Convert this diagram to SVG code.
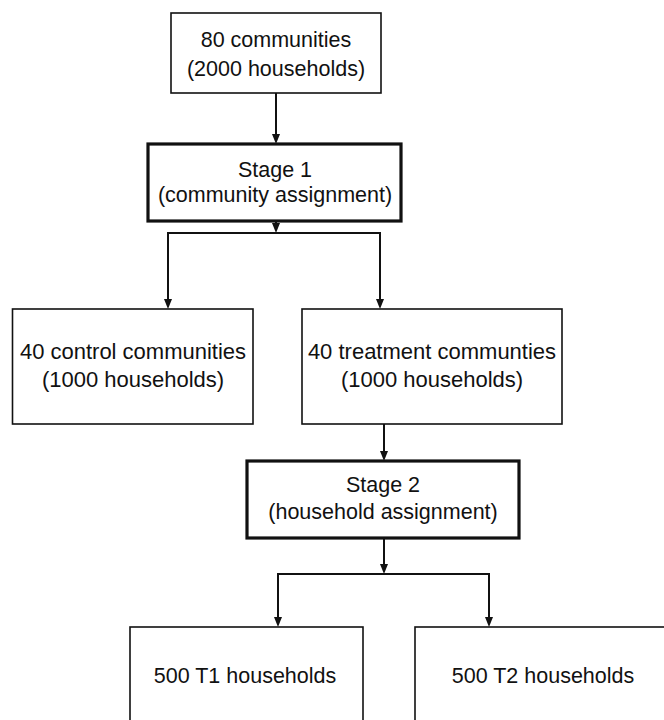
<svg xmlns="http://www.w3.org/2000/svg" width="664" height="720" viewBox="0 0 664 720">
<style>
.box{fill:#fff;stroke:#111;stroke-width:1.6}
.stage{fill:#fff;stroke:#111;stroke-width:3.2}
.t{font-family:"Liberation Sans",Arial,sans-serif;font-size:21.5px;fill:#111;text-anchor:middle}
.m{font-size:22px}
.c{fill:none;stroke:#111;stroke-width:2}
.h{fill:#111}
</style>
<rect width="664" height="720" fill="#fff"/>
<g id="connectors">
<path class="c" d="M276,93 V136"/>
<path class="h" d="M272,134 L280,134 L276,144 Z"/>
<path class="c" d="M276,221 V226"/>
<path class="h" d="M272,223 L280,223 L276,233 Z"/>
<path class="c" d="M168,301 V233 H380 V301"/>
<path class="h" d="M164,299 L172,299 L168,309 Z"/>
<path class="h" d="M376,299 L384,299 L380,309 Z"/>
<path class="c" d="M384,424 V453"/>
<path class="h" d="M380,451 L388,451 L384,461 Z"/>
<path class="c" d="M384,538 V566"/>
<path class="h" d="M380,564 L388,564 L384,574 Z"/>
<path class="c" d="M278,619 V574 H489 V619"/>
<path class="h" d="M274,617 L282,617 L278,627 Z"/>
<path class="h" d="M485,617 L493,617 L489,627 Z"/>
</g>
<g id="n80">
<rect class="box" x="171" y="13" width="210" height="80"/>
<text class="t" x="276" y="47">80 communities</text>
<text class="t" x="276" y="76">(2000 households)</text>
</g>
<g id="stage1">
<rect class="stage" x="148" y="144" width="253" height="77"/>
<text class="t" x="275" y="177">Stage 1</text>
<text class="t" x="275" y="202">(community assignment)</text>
</g>
<g id="control">
<rect class="box" x="12.5" y="309" width="240.5" height="115"/>
<text class="t m" x="133" y="359">40 control communities</text>
<text class="t m" x="133" y="387">(1000 households)</text>
</g>
<g id="treatment">
<rect class="box" x="302" y="309" width="260" height="115"/>
<text class="t m" x="432" y="359">40 treatment communties</text>
<text class="t m" x="432" y="387">(1000 households)</text>
</g>
<g id="stage2">
<rect class="stage" x="247" y="461" width="272" height="77"/>
<text class="t" x="383" y="492">Stage 2</text>
<text class="t" x="383" y="519">(household assignment)</text>
</g>
<g id="t1">
<rect class="box" x="130" y="627" width="233" height="110"/>
<text class="t" x="245" y="683">500 T1 households</text>
</g>
<g id="t2">
<rect class="box" x="415" y="627" width="280" height="110"/>
<text class="t" x="543" y="683">500 T2 households</text>
</g>
</svg>
